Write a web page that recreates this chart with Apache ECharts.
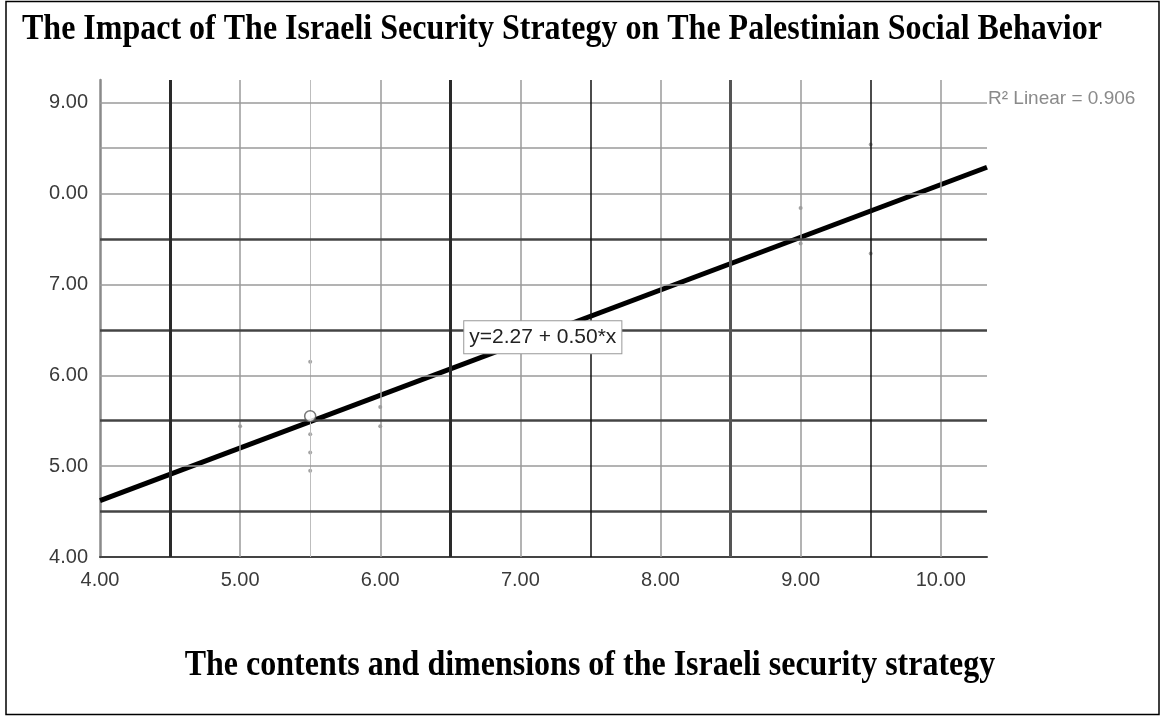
<!DOCTYPE html>
<html>
<head>
<meta charset="utf-8">
<script src="https://cdn.jsdelivr.net/npm/echarts@6/dist/echarts.min.js"></script>
<style>
html,body{margin:0;padding:0;background:#fff;}
#chart{width:1164px;height:717px;}
</style>
</head>
<body>
<div id="chart"></div>
<script>
// ---- data ----
const titleText = 'The Impact of The Israeli Security Strategy on The Palestinian Social Behavior';
const xAxisTitle = 'The contents and dimensions of the Israeli security strategy';
const r2Text = 'R\u00B2 Linear = 0.906';
const equationText = 'y=2.27 + 0.50*x';
const equationAnchor = [7.16, 6.42];

const pointsX = [5.0, 5.5, 5.5, 5.5, 5.5, 6.0, 6.0, 9.0, 9.0, 9.5, 9.5];
const pointsY = [5.44, 6.15, 5.35, 5.15, 4.95, 5.65, 5.44, 7.84, 7.45, 8.54, 7.34];
const meanPoint = [5.5, 5.55];

const fitX = [4.0, 10.33];
const fitY = [4.62, 8.29];

const yTickValues = [4, 5, 6, 7, 8, 9];
const yTickLabels = ['4.00', '5.00', '6.00', '7.00', '0.00', '9.00'];

const gridXLight = [5.0, 6.0, 7.0, 8.0, 9.0, 10.0];
const gridXFaint = [5.5];
const gridXHeavy = [4.5, 6.5];
const gridXMedium = [8.5];
const gridXThin = [7.5, 9.5];
const gridYLight = [5.0, 6.0, 7.0, 8.0, 8.5, 9.0];
const gridYDark = [4.5, 5.5, 6.5, 7.5];

// ---- chart ----
const chart = echarts.init(document.getElementById('chart'), null, {renderer: 'canvas'});

function vLines(vals, color, width) {
  return vals.map(v => ({xAxis: v, lineStyle: {color: color, width: width, type: 'solid'}}));
}
function hLines(vals, color, width) {
  return vals.map(v => ({yAxis: v, lineStyle: {color: color, width: width, type: 'solid'}}));
}

const gridLineData = [].concat(
  vLines(gridXFaint, '#bdbdbd', 1),
  vLines(gridXLight, '#9a9a9a', 1.5),
  hLines(gridYLight, '#9a9a9a', 1.5),
  hLines(gridYDark, '#444444', 2.5),
  vLines(gridXHeavy, '#2a2a2a', 3),
  vLines(gridXMedium, '#555555', 3),
  vLines(gridXThin, '#111111', 1.5)
);

const sansFont = '"Liberation Sans", Arial, sans-serif';
const serifFont = '"Liberation Serif", "Times New Roman", serif';

const option = {
  animation: false,
  backgroundColor: '#ffffff',
  grid: {left: 100, top: 80, width: 887, height: 477, containLabel: false, outerBoundsMode: 'none'},
  xAxis: {
    type: 'value', min: 4, max: 10.33, interval: 1,
    axisLine: {show: true, onZero: false, lineStyle: {color: '#444', width: 2}},
    axisTick: {show: false},
    splitLine: {show: false},
    axisLabel: {
      show: true, margin: 13, fontSize: 20, color: '#3a3a3a', fontFamily: sansFont,
      showMaxLabel: false,
      formatter: v => v.toFixed(2)
    }
  },
  yAxis: {
    type: 'value', min: 4, max: 9.25, interval: 1,
    axisLine: {show: true, onZero: false, lineStyle: {color: '#8a8a8a', width: 2.5}},
    axisTick: {show: false},
    splitLine: {show: false},
    axisLabel: {
      show: true, margin: 12, fontSize: 20, color: '#3a3a3a', fontFamily: sansFont,
      showMaxLabel: false,
      formatter: v => {
        const i = yTickValues.indexOf(Math.round(v * 100) / 100);
        return i >= 0 ? yTickLabels[i] : '';
      }
    }
  },
  series: [
    {
      name: 'grid', type: 'line', data: [], z: 1, silent: true,
      markLine: {
        silent: true, symbol: ['none', 'none'], animation: false,
        label: {show: false}, emphasis: {disabled: true},
        data: gridLineData
      }
    },
    {
      name: 'fit', type: 'line', z: 3, silent: true,
      data: fitX.map((x, i) => [x, fitY[i]]),
      showSymbol: false, symbol: 'none',
      lineStyle: {color: '#000', width: 5},
      markPoint: {
        silent: true, symbol: 'rect', symbolSize: 1,
        itemStyle: {color: 'rgba(0,0,0,0)'},
        label: {
          show: true, position: 'inside', formatter: equationText,
          fontSize: 21, color: '#222', fontFamily: sansFont,
          backgroundColor: '#fff', borderColor: '#999', borderWidth: 1,
          padding: [6, 5, 5, 5]
        },
        data: [{coord: equationAnchor}]
      }
    },
    {
      name: 'points', type: 'scatter', z: 4, silent: true,
      data: pointsX.map((x, i) => [x, pointsY[i]]),
      symbol: 'circle', symbolSize: 4,
      itemStyle: {color: '#8c8c8c'}
    },
    {
      name: 'mean', type: 'scatter', z: 5, silent: true,
      data: [meanPoint],
      symbol: 'circle', symbolSize: 11,
      itemStyle: {color: '#ffffff', borderColor: '#555', borderWidth: 1.5}
    }
  ],
  graphic: [
    {
      type: 'rect', silent: true, z: 0,
      shape: {x: 6, y: 1.5, width: 1153, height: 713},
      style: {fill: 'none', stroke: '#000', lineWidth: 1.5}
    },
    {
      type: 'text', silent: true,
      x: 22, y: 30, scaleY: 1.12, originX: 0, originY: 0,
      style: {text: titleText, font: 'bold 32px ' + serifFont, fill: '#000', align: 'left', verticalAlign: 'middle'}
    },
    {
      type: 'text', silent: true,
      x: 590, y: 666, scaleY: 1.12, originX: 0, originY: 0,
      style: {text: xAxisTitle, font: 'bold 32px ' + serifFont, fill: '#000', align: 'center', verticalAlign: 'middle'}
    },
    {
      type: 'text', silent: true,
      x: 988, y: 99,
      style: {text: r2Text, font: '19px ' + sansFont, fill: '#8a8a8a', align: 'left', verticalAlign: 'middle'}
    }
  ]
};
chart.setOption(option);
</script>
</body>
</html>
